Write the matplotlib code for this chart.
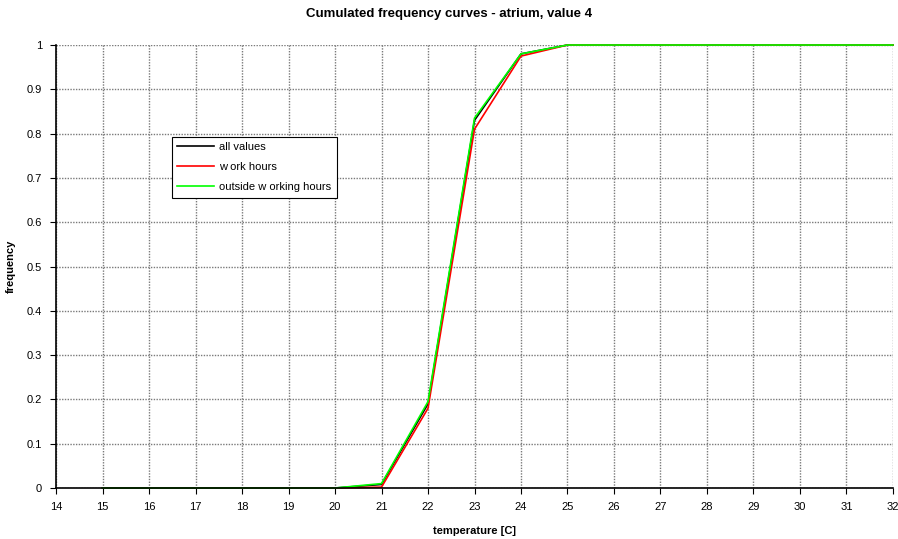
import matplotlib
matplotlib.use('Agg')
import matplotlib.pyplot as plt

plt.rcParams['font.family'] = ['Liberation Sans', 'DejaVu Sans']

temps = list(range(15, 33))
all_values = [0, 0, 0, 0, 0, 0, 0.008, 0.19, 0.83, 0.98, 1, 1, 1, 1, 1, 1, 1, 1]
work_hours = [0, 0, 0, 0, 0, 0, 0.002, 0.18, 0.81, 0.975, 1, 1, 1, 1, 1, 1, 1, 1]
outside_hours = [0, 0, 0, 0, 0, 0, 0.01, 0.195, 0.835, 0.98, 1, 1, 1, 1, 1, 1, 1, 1]

fig = plt.figure(figsize=(8.98, 5.39), dpi=100)
ax = fig.add_axes([0.0624, 0.0946, 0.932, 0.8219])

ax.plot(temps, all_values, color='black', lw=1.2, label='all values', clip_on=False)
ax.plot(temps, work_hours, color='#ff0000', lw=1.2, label='w ork hours', clip_on=False)
ax.plot(temps, outside_hours, color='#00ff00', lw=1.2, label='outside w orking hours', clip_on=False)

ax.set_xlim(14, 32)
ax.set_ylim(0, 1)
ax.set_xticks(range(14, 33))
ax.set_yticks([i / 10 for i in range(11)])
ax.set_yticklabels(['0', '0.1', '0.2', '0.3', '0.4', '0.5', '0.6', '0.7', '0.8', '0.9', '1'])
ax.grid(True, color='#7a7a7a', ls=(0, (1, 1)), lw=1.0)
ax.set_axisbelow(True)
for s in ['top', 'right']:
    ax.spines[s].set_visible(False)
ax.spines['left'].set_linewidth(1.2)
ax.spines['bottom'].set_linewidth(1.2)
ax.tick_params(direction='out', length=4, labelsize=8, pad=6)

ax.set_xlabel('temperature [C]', fontsize=8, fontweight='bold', labelpad=10)
ax.set_ylabel('frequency', fontsize=8, fontweight='bold', labelpad=8)
fig.suptitle('Cumulated frequency curves - atrium, value 4', fontsize=9.5, fontweight='bold', y=0.985)

leg = ax.legend(loc='upper left', bbox_to_anchor=(0.1314, 0.8060), fontsize=8, frameon=True,
                fancybox=False, edgecolor='black', framealpha=1, handlelength=3.3,
                borderpad=0.5, labelspacing=0.9, handletextpad=0.5)
leg.get_frame().set_linewidth(0.8)

fig.savefig('out.png', dpi=100)
